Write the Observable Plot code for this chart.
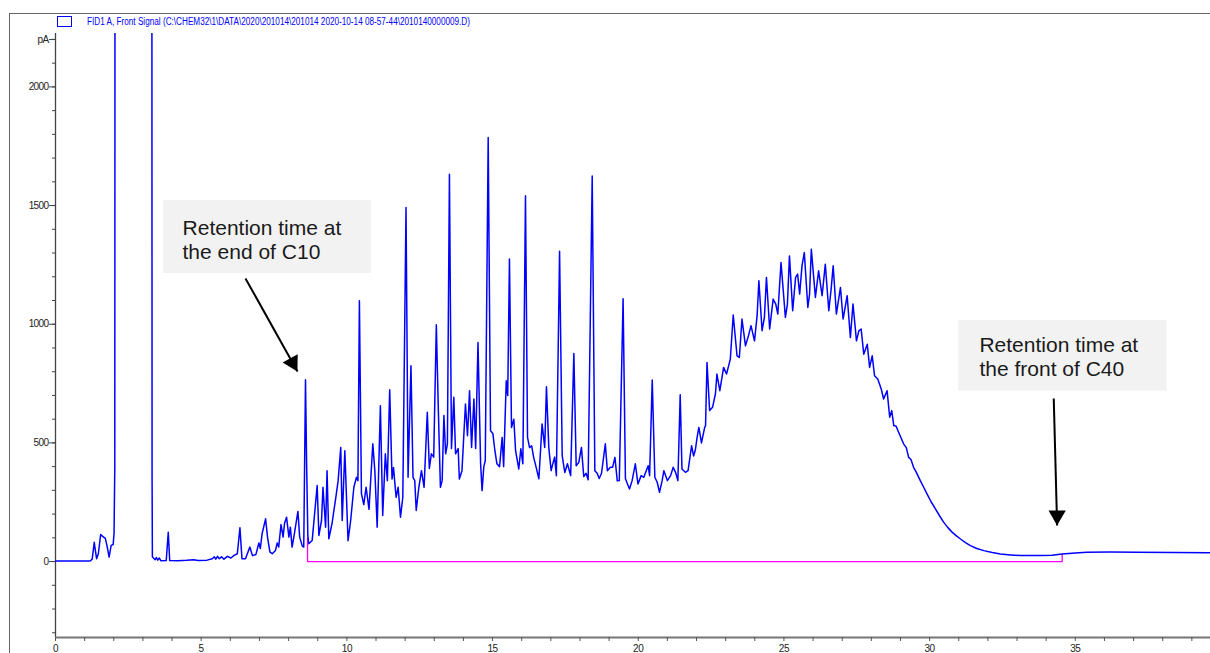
<!DOCTYPE html>
<html>
<head>
<meta charset="utf-8">
<script src="https://cdn.jsdelivr.net/npm/d3@7"></script>
<script src="https://cdn.jsdelivr.net/npm/@observablehq/plot@0.6"></script>
<style>
  html, body { margin: 0; padding: 0; background: #fff; }
  #wrap { position: relative; width: 1210px; height: 653px; overflow: hidden; }
  #wrap svg { position: absolute; left: 0; top: 0; }
  #frame { position: absolute; left: 9px; top: 13px; width: 1210px; height: 660px;
           border-left: 1px solid #666; border-top: 1px solid #666; pointer-events: none; }
  svg [aria-label="y-axis tick label"] text { letter-spacing: -0.6px; }
  svg [aria-label="x-axis tick label"] text { letter-spacing: -0.4px; }
</style>
</head>
<body>
<div id="wrap"><div id="frame"></div></div>
<script>
// ---- Chromatogram (retention time in min, signal in pA) ----
const retentionTime = [
  0, 1.15, 1.20, 1.26, 1.33, 1.37, 1.41, 1.47, 1.55, 1.63, 1.71, 1.77, 1.84, 1.91, 1.98, 2.01, 2.035, 2.05,
  3.30, 3.315, 3.325, 3.37, 3.42, 3.46, 3.51, 3.56, 3.62, 3.80, 3.87, 3.92, 4.20, 4.50, 4.74, 4.90, 5.20,
  5.38, 5.45, 5.50, 5.56, 5.62, 5.70, 5.78, 5.90, 6.02, 6.13, 6.24, 6.33, 6.40, 6.52, 6.67, 6.76, 6.88,
  6.98, 7.03, 7.09, 7.21, 7.28, 7.36, 7.44, 7.55, 7.61, 7.66, 7.74, 7.81, 7.86, 7.93, 8.01, 8.06, 8.12,
  8.18, 8.32, 8.38, 8.47, 8.52, 8.58, 8.62, 8.66, 8.69, 8.81, 8.98, 9.04, 9.13, 9.18, 9.27, 9.32, 9.38,
  9.49, 9.63, 9.70, 9.79, 9.84, 9.93, 10.04, 10.13, 10.24, 10.33, 10.38, 10.43, 10.50, 10.58, 10.66,
  10.76, 10.89, 10.96, 11.04, 11.15, 11.23, 11.32, 11.39, 11.47, 11.55, 11.60, 11.69, 11.76, 11.84,
  11.92, 12.03, 12.10, 12.20, 12.27, 12.33, 12.38, 12.47, 12.56, 12.65, 12.76, 12.83, 12.90, 12.98,
  13.07, 13.14, 13.21, 13.27, 13.33, 13.39, 13.45, 13.52, 13.59, 13.67, 13.73, 13.82, 13.86, 13.95,
  14.07, 14.14, 14.21, 14.28, 14.36, 14.42, 14.50, 14.59, 14.64, 14.70, 14.75, 14.85, 14.93, 15.01,
  15.08, 15.15, 15.24, 15.33, 15.38, 15.47, 15.52, 15.58, 15.65, 15.73, 15.79, 15.90, 15.97, 16.04,
  16.13, 16.20, 16.27, 16.34, 16.41, 16.49, 16.59, 16.70, 16.79, 16.85, 16.93, 17.01, 17.08, 17.13,
  17.19, 17.30, 17.39, 17.48, 17.57, 17.68, 17.79, 17.87, 17.96, 18.05, 18.13, 18.21, 18.28, 18.42,
  18.51, 18.59, 18.66, 18.74, 18.87, 18.94, 19.04, 19.12, 19.20, 19.28, 19.35, 19.48, 19.56, 19.70,
  19.79, 19.90, 19.99, 20.10, 20.19, 20.34, 20.39, 20.48, 20.57, 20.65, 20.73, 20.82, 20.88, 21.00,
  21.11, 21.20, 21.28, 21.36, 21.44, 21.50, 21.62, 21.71, 21.83, 21.90, 21.96, 22.02, 22.08, 22.17,
  22.28, 22.31, 22.36, 22.45, 22.55, 22.65, 22.70, 22.80, 22.93, 23.03, 23.16, 23.26, 23.39, 23.47,
  23.56, 23.68, 23.78, 23.87, 23.99, 24.08, 24.14, 24.25, 24.33, 24.40, 24.51, 24.63, 24.72, 24.79,
  24.90, 25.05, 25.12, 25.19, 25.30, 25.40, 25.47, 25.54, 25.62, 25.70, 25.82, 25.88, 25.94, 26.08,
  26.19, 26.31, 26.42, 26.54, 26.62, 26.69, 26.80, 26.94, 27.03, 27.17, 27.28, 27.37, 27.49, 27.57,
  27.65, 27.74, 27.86, 27.94, 28.03, 28.11, 28.22, 28.34, 28.42, 28.54, 28.63, 28.70, 28.77, 28.85,
  28.94, 29.11, 29.20, 29.28, 29.36, 29.45, 29.55, 29.68, 29.80, 29.91, 30.05, 30.20, 30.34, 30.48,
  30.62, 30.77, 30.92, 31.06, 31.23, 31.40, 31.62, 31.86, 32.15, 32.43, 32.78, 33.12, 33.46, 33.80,
  34.20, 34.55, 35.00, 35.40, 36.20, 37.12, 38.40, 39.64
];
const signal = [
  2, 2, 3, 11, 81, 45, 12, 33, 114, 105, 98, 65, 19, 68, 72, 121, 400, 5000,
  5000, 340, 20, 14, 8, 17, 6, 15, 3, 4, 123, 4, 3, 5, 8, 4, 6,
  12, 20, 10, 22, 12, 20, 10, 22, 15, 26, 33, 142, 12, 12, 61, 25, 30,
  78, 55, 117, 180, 100, 40, 33, 47, 78, 61, 156, 103, 160, 187, 103, 145, 61,
  103, 211, 103, 65, 61, 766, 400, 110, 75, 89, 320, 110, 173, 313, 145, 383, 96,
  160, 278, 341, 481, 173, 467, 88, 173, 313, 355, 341, 1099, 286, 240, 313,
  220, 496, 383, 145, 657, 194, 454, 341, 724, 348, 396, 271, 313, 187,
  271, 1492, 355, 825, 355, 341, 215, 313, 383, 313, 629, 392, 454, 440,
  998, 636, 313, 341, 615, 454, 496, 1632, 476, 692, 454, 476, 348, 383,
  664, 530, 720, 481, 685, 476, 923, 412, 299, 400, 426, 1787, 551, 540,
  467, 412, 400, 523, 400, 762, 700, 1275, 565, 600, 467, 390, 475, 412,
  1541, 523, 480, 488, 439, 400, 349, 580, 481, 737, 480, 383, 418, 440,
  362, 1307, 446, 375, 412, 362, 877, 404, 418, 481, 358, 372, 345, 1625,
  383, 372, 350, 372, 496, 383, 397, 397, 439, 340, 341, 1107, 349, 306,
  341, 412, 327, 362, 355, 404, 362, 765, 355, 334, 292, 341, 383, 341,
  362, 397, 376, 341, 703, 390, 376, 383, 488, 445, 470, 523, 565, 500,
  565, 573, 839, 636, 650, 707, 790, 720, 818, 790, 853, 1039, 867, 860,
  1022, 909, 950, 994, 930, 1036, 1183, 973, 1029, 1197, 980, 1106, 1085, 1043,
  1260, 1029, 1085, 1288, 1057, 1197, 1211, 1127, 1246, 1302, 1071, 1127, 1316, 1113,
  1225, 1120, 1253, 1057, 1148, 1246, 1043, 1155, 1022, 1120, 944, 1085, 930, 972,
  980, 874, 916, 818, 867, 783, 769, 727, 685, 720, 608, 636, 573, 570,
  544, 495, 480, 439, 430, 397, 375, 341, 312, 285, 252, 222, 193, 166,
  144, 124, 108, 95, 80, 67, 55, 46, 38, 32, 28, 25, 25, 25,
  27, 32, 36, 39, 40, 39, 38, 37
];
// Integration baseline (magenta)
const baselineTime = [8.65, 8.65, 34.55, 34.55];
const baselineSignal = [100, 0, 0, 30];

// Axis ticks
const yMinorTicks = d3.range(-300, 2201, 100);
const yMajorTicks = [0, 500, 1000, 1500, 2000, 2200];
const yTickLabels = ["0", "500", "1000", "1500", "2000", "pA"];
const xTicks = d3.range(0, 40, 1);
const xLabelStep = 5;

// Legend
const legendLabel = "FID1 A, Front Signal (C:\\CHEM32\\1\\DATA\\2020\\201014\\201014 2020-10-14 08-57-44\\2010140000009.D)";

// Annotations (data units)
const noteLabels = ["Retention time at\nthe end of C10", "Retention time at\nthe front of C40"];
const noteBoxX1 = [3.71, 31.00], noteBoxX2 = [10.84, 38.15];
const noteBoxY1 = [1214, 718], noteBoxY2 = [1521, 1016];
const noteTextX = [4.36, 31.71], noteTextY = [1447, 953];
const arrowFromX = [6.52, 34.26], arrowFromY = [1193, 687];
const arrowToX = [8.305, 34.376], arrowToY = [801, 152];
const arrowRotate = [150.8, 180.5];
const arrowHeadDx = [-4.9, 0], arrowHeadDy = [-8.7, -10];

const trace = retentionTime.map((t, i) => ({t, v: signal[i]}));
const baseline = baselineTime.map((t, i) => ({t, v: baselineSignal[i]}));
const notes = noteLabels.map((label, i) => ({
  label, x1: noteBoxX1[i], x2: noteBoxX2[i], y1: noteBoxY1[i], y2: noteBoxY2[i],
  tx: noteTextX[i], ty: noteTextY[i],
  fx: arrowFromX[i], fy: arrowFromY[i], ax: arrowToX[i], ay: arrowToY[i],
  rot: arrowRotate[i], hdx: arrowHeadDx[i], hdy: arrowHeadDy[i]
}));

const arrowHeads = notes.map((d) => Plot.dot([d], {
  x: "ax", y: "ay", symbol: "triangle", r: 6.4, fill: "black", stroke: "none",
  rotate: d.rot, dx: d.hdx, dy: d.hdy
}));

const chart = Plot.plot({
  width: 1210,
  height: 653,
  marginLeft: 55,
  marginRight: 0,
  marginTop: 33,
  marginBottom: 16,
  style: {background: "transparent", fontFamily: "Liberation Sans, Arial, sans-serif", overflow: "visible"},
  x: {domain: [0, 39.64], axis: null},
  y: {domain: [-320, 2225], axis: null},
  marks: [
    // annotation boxes
    Plot.rect(notes, {x1: "x1", x2: "x2", y1: "y1", y2: "y2", fill: "#f2f2f2"}),
    Plot.text(notes, {x: "tx", y: "ty", text: "label", textAnchor: "start", lineAnchor: "top",
      lineHeight: 1.14, fontSize: 21, fill: "#1a1a1a", fontFamily: "Liberation Sans, Arial, sans-serif"}),
    // axes
    Plot.ruleX([0], {stroke: "#444", strokeWidth: 1.3}),
    Plot.ruleY([-320], {stroke: "#777", strokeWidth: 2}),
    Plot.axisY(yMinorTicks, {tickSize: 3, tickFormat: () => "", stroke: "#444"}),
    Plot.axisY(yMajorTicks, {tickSize: 6, tickPadding: 1, stroke: "#444",
      tickFormat: (d) => yTickLabels[yMajorTicks.indexOf(d)], fontSize: 10, fill: "#222"}),
    Plot.axisX(xTicks, {tickSize: 4, tickPadding: 3, stroke: "#555",
      tickFormat: (d) => d % xLabelStep === 0 ? String(d) : "", fontSize: 10, fill: "#222"}),
    // baseline and signal
    Plot.line(baseline, {x: "t", y: "v", stroke: "#ff00ff", strokeWidth: 1.3}),
    Plot.line(trace, {x: "t", y: "v", stroke: "#0000ff", strokeWidth: 1.5, clip: true}),
    // arrows
    Plot.link(notes, {x1: "fx", y1: "fy", x2: "ax", y2: "ay", stroke: "black", strokeWidth: 2}),
    ...arrowHeads
  ]
});

// legend (signal name) in the top margin
const svg = d3.select(chart);
svg.append("rect").attr("x", 57.5).attr("y", 16.5).attr("width", 14).attr("height", 10)
  .attr("fill", "white").attr("stroke", "#0000ff").attr("stroke-width", 1);
svg.append("text").attr("x", 87).attr("y", 25).attr("fill", "#0000ff")
  .attr("text-anchor", "start")
  .attr("font-size", 10).attr("font-family", "Liberation Sans, Arial, sans-serif")
  .attr("textLength", 383).attr("lengthAdjust", "spacingAndGlyphs").text(legendLabel);

document.getElementById("wrap").appendChild(chart);
</script>
</body>
</html>
